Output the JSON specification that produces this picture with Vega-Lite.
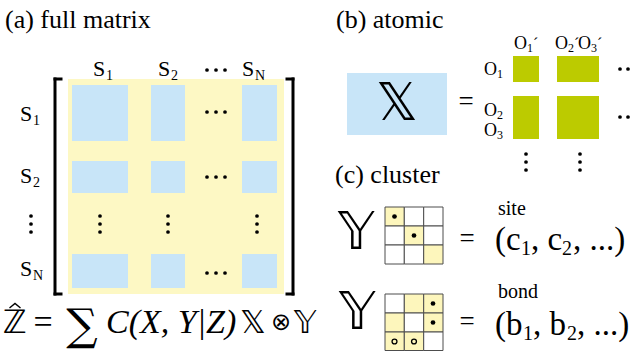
{
  "$schema": "https://vega.github.io/schema/vega-lite/v6.json",
  "width": 632,
  "height": 351,
  "padding": 0,
  "autosize": {"type": "none"},
  "background": "white",
  "config": {"view": {"stroke": null}},
  "resolve": {"scale": {"color": "independent"}},
  "datasets": {
    "blocks": [
      {"kind": "panel", "x": 68, "x2": 284, "y": 79, "y2": 294},
      {"kind": "block", "x": 72, "x2": 128, "y": 85, "y2": 141},
      {"kind": "block", "x": 151, "x2": 185, "y": 85, "y2": 141},
      {"kind": "block", "x": 242, "x2": 277, "y": 85, "y2": 141},
      {"kind": "block", "x": 72, "x2": 128, "y": 161, "y2": 193},
      {"kind": "block", "x": 151, "x2": 185, "y": 161, "y2": 193},
      {"kind": "block", "x": 242, "x2": 277, "y": 161, "y2": 193},
      {"kind": "block", "x": 72, "x2": 128, "y": 254, "y2": 288},
      {"kind": "block", "x": 151, "x2": 185, "y": 254, "y2": 288},
      {"kind": "block", "x": 242, "x2": 277, "y": 254, "y2": 288},
      {"kind": "block", "x": 347, "x2": 447, "y": 73, "y2": 135},
      {"kind": "orbital", "x": 513, "x2": 539, "y": 56, "y2": 82},
      {"kind": "orbital", "x": 557, "x2": 599, "y": 56, "y2": 82},
      {"kind": "orbital", "x": 513, "x2": 539, "y": 96, "y2": 139},
      {"kind": "orbital", "x": 557, "x2": 599, "y": 96, "y2": 139}
    ],
    "cells": [
      {"grid": "site", "on": "yes", "x": 385, "x2": 404.3, "y": 207, "y2": 226},
      {"grid": "site", "on": "no", "x": 404.3, "x2": 423.7, "y": 207, "y2": 226},
      {"grid": "site", "on": "no", "x": 423.7, "x2": 443, "y": 207, "y2": 226},
      {"grid": "site", "on": "no", "x": 385, "x2": 404.3, "y": 226, "y2": 245},
      {"grid": "site", "on": "yes", "x": 404.3, "x2": 423.7, "y": 226, "y2": 245},
      {"grid": "site", "on": "no", "x": 423.7, "x2": 443, "y": 226, "y2": 245},
      {"grid": "site", "on": "no", "x": 385, "x2": 404.3, "y": 245, "y2": 264},
      {"grid": "site", "on": "no", "x": 404.3, "x2": 423.7, "y": 245, "y2": 264},
      {"grid": "site", "on": "yes", "x": 423.7, "x2": 443, "y": 245, "y2": 264},
      {"grid": "bond", "on": "no", "x": 385, "x2": 404.3, "y": 294, "y2": 313},
      {"grid": "bond", "on": "yes", "x": 404.3, "x2": 423.7, "y": 294, "y2": 313},
      {"grid": "bond", "on": "yes", "x": 423.7, "x2": 443, "y": 294, "y2": 313},
      {"grid": "bond", "on": "yes", "x": 385, "x2": 404.3, "y": 313, "y2": 332},
      {"grid": "bond", "on": "no", "x": 404.3, "x2": 423.7, "y": 313, "y2": 332},
      {"grid": "bond", "on": "yes", "x": 423.7, "x2": 443, "y": 313, "y2": 332},
      {"grid": "bond", "on": "yes", "x": 385, "x2": 404.3, "y": 332, "y2": 350.5},
      {"grid": "bond", "on": "yes", "x": 404.3, "x2": 423.7, "y": 332, "y2": 350.5},
      {"grid": "bond", "on": "no", "x": 423.7, "x2": 443, "y": 332, "y2": 350.5}
    ],
    "brackets": [
      {"x": 55, "x2": 55, "y": 79, "y2": 294},
      {"x": 55, "x2": 61, "y": 79, "y2": 79},
      {"x": 55, "x2": 61, "y": 294, "y2": 294},
      {"x": 293, "x2": 293, "y": 79, "y2": 294},
      {"x": 287, "x2": 293, "y": 79, "y2": 79},
      {"x": 287, "x2": 293, "y": 294, "y2": 294}
    ],
    "hat": [
      {"i": 0, "x": 9.5, "y": 308},
      {"i": 1, "x": 15, "y": 303.5},
      {"i": 2, "x": 20.5, "y": 308}
    ],
    "dots": [
      {"kind": "ellipsis", "x": 207, "y": 70}, {"kind": "ellipsis", "x": 216, "y": 70}, {"kind": "ellipsis", "x": 225, "y": 70},
      {"kind": "ellipsis", "x": 207, "y": 112}, {"kind": "ellipsis", "x": 216, "y": 112}, {"kind": "ellipsis", "x": 225, "y": 112},
      {"kind": "ellipsis", "x": 207, "y": 177}, {"kind": "ellipsis", "x": 216, "y": 177}, {"kind": "ellipsis", "x": 225, "y": 177},
      {"kind": "ellipsis", "x": 207, "y": 273}, {"kind": "ellipsis", "x": 216, "y": 273}, {"kind": "ellipsis", "x": 225, "y": 273},
      {"kind": "ellipsis", "x": 31, "y": 216}, {"kind": "ellipsis", "x": 31, "y": 224}, {"kind": "ellipsis", "x": 31, "y": 232},
      {"kind": "ellipsis", "x": 100, "y": 216}, {"kind": "ellipsis", "x": 100, "y": 224}, {"kind": "ellipsis", "x": 100, "y": 232},
      {"kind": "ellipsis", "x": 168, "y": 216}, {"kind": "ellipsis", "x": 168, "y": 224}, {"kind": "ellipsis", "x": 168, "y": 232},
      {"kind": "ellipsis", "x": 257, "y": 216}, {"kind": "ellipsis", "x": 257, "y": 224}, {"kind": "ellipsis", "x": 257, "y": 232},
      {"kind": "ellipsis", "x": 620, "y": 69}, {"kind": "ellipsis", "x": 628, "y": 69}, {"kind": "ellipsis", "x": 636, "y": 69},
      {"kind": "ellipsis", "x": 620, "y": 117}, {"kind": "ellipsis", "x": 628, "y": 117}, {"kind": "ellipsis", "x": 636, "y": 117},
      {"kind": "ellipsis", "x": 526, "y": 154}, {"kind": "ellipsis", "x": 526, "y": 162}, {"kind": "ellipsis", "x": 526, "y": 170},
      {"kind": "ellipsis", "x": 580, "y": 154}, {"kind": "ellipsis", "x": 580, "y": 162}, {"kind": "ellipsis", "x": 580, "y": 170},
      {"kind": "occupied", "x": 394.5, "y": 216.5},
      {"kind": "occupied", "x": 414, "y": 235.5},
      {"kind": "occupied", "x": 433, "y": 303.5},
      {"kind": "occupied", "x": 433, "y": 322.5},
      {"kind": "vacant", "x": 394.5, "y": 341.5},
      {"kind": "vacant", "x": 414, "y": 341.5}
    ],
    "texts": [
      {"role": "title", "x": 5, "y": 28, "t": "(a) full matrix"},
      {"role": "title", "x": 336, "y": 28, "t": "(b) atomic"},
      {"role": "title", "x": 335, "y": 183, "t": "(c) cluster"},
      {"role": "S", "x": 93, "y": 76, "t": "S"},
      {"role": "S", "x": 158, "y": 76, "t": "S"},
      {"role": "S", "x": 242, "y": 76, "t": "S"},
      {"role": "S", "x": 20, "y": 121, "t": "S"},
      {"role": "S", "x": 20, "y": 183, "t": "S"},
      {"role": "S", "x": 20, "y": 276, "t": "S"},
      {"role": "Ssub", "x": 106, "y": 80, "t": "1"},
      {"role": "Ssub", "x": 171, "y": 80, "t": "2"},
      {"role": "Ssub", "x": 255, "y": 80, "t": "N"},
      {"role": "Ssub", "x": 33, "y": 125, "t": "1"},
      {"role": "Ssub", "x": 33, "y": 187, "t": "2"},
      {"role": "Ssub", "x": 33, "y": 280, "t": "N"},
      {"role": "O", "x": 484, "y": 75, "t": "O"},
      {"role": "O", "x": 484, "y": 116, "t": "O"},
      {"role": "O", "x": 484, "y": 136, "t": "O"},
      {"role": "O", "x": 514, "y": 49, "t": "O"},
      {"role": "O", "x": 555, "y": 49, "t": "O"},
      {"role": "O", "x": 578, "y": 49, "t": "O"},
      {"role": "Osub", "x": 497, "y": 78, "t": "1"},
      {"role": "Osub", "x": 497, "y": 119, "t": "2"},
      {"role": "Osub", "x": 497, "y": 139, "t": "3"},
      {"role": "Osub", "x": 527, "y": 52, "t": "1"},
      {"role": "Osub", "x": 568, "y": 52, "t": "2"},
      {"role": "Osub", "x": 591, "y": 52, "t": "3"},
      {"role": "prime", "x": 533, "y": 49, "t": "´"},
      {"role": "prime", "x": 574, "y": 49, "t": "´"},
      {"role": "prime", "x": 597, "y": 49, "t": "´"},
      {"role": "word", "x": 498, "y": 215, "t": "site"},
      {"role": "word", "x": 498, "y": 298, "t": "bond"},
      {"role": "eq", "x": 466, "y": 102, "t": "="},
      {"role": "eq", "x": 467, "y": 239, "t": "="},
      {"role": "eq", "x": 467, "y": 322, "t": "="},
      {"role": "tuple", "x": 495, "y": 250, "t": "(c"},
      {"role": "tuple", "x": 531, "y": 250, "t": ", c"},
      {"role": "tuple", "x": 573, "y": 250, "t": ", ...)"},
      {"role": "tuple", "x": 495, "y": 335, "t": "(b"},
      {"role": "tuple", "x": 533, "y": 335, "t": ", b"},
      {"role": "tuple", "x": 577, "y": 335, "t": ", ...)"},
      {"role": "tsub", "x": 521, "y": 255, "t": "1"},
      {"role": "tsub", "x": 562, "y": 255, "t": "2"},
      {"role": "tsub", "x": 523, "y": 340, "t": "1"},
      {"role": "tsub", "x": 567, "y": 340, "t": "2"},
      {"role": "bb", "x": 397, "y": 104, "t": "𝕏"},
      {"role": "bb", "x": 356, "y": 233, "t": "𝕐"},
      {"role": "bb", "x": 357, "y": 313, "t": "𝕐"},
      {"role": "fbb", "x": 15, "y": 323, "t": "ℤ"},
      {"role": "fbb", "x": 253, "y": 323, "t": "𝕏"},
      {"role": "fbb", "x": 305, "y": 323, "t": "𝕐"},
      {"role": "feq", "x": 43, "y": 323, "t": "="},
      {"role": "fsum", "x": 82, "y": 327, "t": "∑"},
      {"role": "fit", "x": 106, "y": 333, "t": "C(X, Y|Z)"},
      {"role": "fop", "x": 281, "y": 323, "t": "⊗"}
    ]
  },
  "encoding": {
    "x": {"field": "x", "type": "quantitative", "scale": {"domain": [0, 632], "nice": false, "zero": false}, "axis": null},
    "y": {"field": "y", "type": "quantitative", "scale": {"domain": [0, 351], "nice": false, "zero": false, "reverse": true}, "axis": null}
  },
  "layer": [
    {
      "data": {"name": "blocks"},
      "mark": {"type": "rect"},
      "encoding": {
        "x2": {"field": "x2"},
        "y2": {"field": "y2"},
        "color": {"field": "kind", "type": "nominal", "legend": null,
          "scale": {"domain": ["panel", "block", "orbital"], "range": ["#FDF8C4", "#C8E5F8", "#BCCB00"]}}
      }
    },
    {
      "data": {"name": "cells"},
      "mark": {"type": "rect", "stroke": "#4d4d4d", "strokeWidth": 1},
      "encoding": {
        "x2": {"field": "x2"},
        "y2": {"field": "y2"},
        "color": {"field": "on", "type": "nominal", "legend": null,
          "scale": {"domain": ["yes", "no"], "range": ["#FDF6BC", "#FFFFFF"]}}
      }
    },
    {
      "data": {"name": "brackets"},
      "mark": {"type": "rule", "color": "black", "strokeWidth": 3, "strokeCap": "square"},
      "encoding": {"x2": {"field": "x2"}, "y2": {"field": "y2"}}
    },
    {
      "data": {"name": "hat"},
      "mark": {"type": "line", "color": "black", "strokeWidth": 1.4, "strokeJoin": "miter"},
      "encoding": {"order": {"field": "i", "type": "quantitative"}}
    },
    {
      "data": {"name": "dots"},
      "transform": [{"filter": "datum.kind === 'ellipsis'"}],
      "mark": {"type": "circle", "color": "black", "size": 14, "opacity": 1}
    },
    {
      "data": {"name": "dots"},
      "transform": [{"filter": "datum.kind === 'occupied'"}],
      "mark": {"type": "circle", "color": "black", "size": 22, "opacity": 1}
    },
    {
      "data": {"name": "dots"},
      "transform": [{"filter": "datum.kind === 'vacant'"}],
      "mark": {"type": "point", "shape": "circle", "filled": false, "stroke": "black", "strokeWidth": 1.3, "size": 24, "opacity": 1}
    },
    {
      "data": {"name": "texts"},
      "transform": [{"filter": "datum.role === 'title'"}],
      "mark": {"type": "text", "font": "Liberation Serif", "fontSize": 26, "align": "left", "baseline": "alphabetic", "color": "black"},
      "encoding": {"text": {"field": "t"}}
    },
    {
      "data": {"name": "texts"},
      "transform": [{"filter": "datum.role === 'S'"}],
      "mark": {"type": "text", "font": "Liberation Serif", "fontSize": 22, "align": "left", "baseline": "alphabetic", "color": "black"},
      "encoding": {"text": {"field": "t"}}
    },
    {
      "data": {"name": "texts"},
      "transform": [{"filter": "datum.role === 'Ssub'"}],
      "mark": {"type": "text", "font": "Liberation Serif", "fontSize": 14, "align": "left", "baseline": "alphabetic", "color": "black"},
      "encoding": {"text": {"field": "t"}}
    },
    {
      "data": {"name": "texts"},
      "transform": [{"filter": "datum.role === 'O'"}],
      "mark": {"type": "text", "font": "Liberation Serif", "fontSize": 18, "align": "left", "baseline": "alphabetic", "color": "black"},
      "encoding": {"text": {"field": "t"}}
    },
    {
      "data": {"name": "texts"},
      "transform": [{"filter": "datum.role === 'Osub'"}],
      "mark": {"type": "text", "font": "Liberation Serif", "fontSize": 12, "align": "left", "baseline": "alphabetic", "color": "black"},
      "encoding": {"text": {"field": "t"}}
    },
    {
      "data": {"name": "texts"},
      "transform": [{"filter": "datum.role === 'prime'"}],
      "mark": {"type": "text", "font": "Liberation Serif", "fontSize": 16, "align": "left", "baseline": "alphabetic", "color": "black"},
      "encoding": {"text": {"field": "t"}}
    },
    {
      "data": {"name": "texts"},
      "transform": [{"filter": "datum.role === 'word'"}],
      "mark": {"type": "text", "font": "Liberation Serif", "fontSize": 20, "align": "left", "baseline": "alphabetic", "color": "black"},
      "encoding": {"text": {"field": "t"}}
    },
    {
      "data": {"name": "texts"},
      "transform": [{"filter": "datum.role === 'eq'"}],
      "mark": {"type": "text", "font": "Liberation Serif", "fontSize": 27, "align": "center", "baseline": "middle", "color": "black"},
      "encoding": {"text": {"field": "t"}}
    },
    {
      "data": {"name": "texts"},
      "transform": [{"filter": "datum.role === 'tuple'"}],
      "mark": {"type": "text", "font": "Liberation Serif", "fontSize": 33, "align": "left", "baseline": "alphabetic", "color": "black"},
      "encoding": {"text": {"field": "t"}}
    },
    {
      "data": {"name": "texts"},
      "transform": [{"filter": "datum.role === 'tsub'"}],
      "mark": {"type": "text", "font": "Liberation Serif", "fontSize": 20, "align": "left", "baseline": "alphabetic", "color": "black"},
      "encoding": {"text": {"field": "t"}}
    },
    {
      "data": {"name": "texts"},
      "transform": [{"filter": "datum.role === 'bb'"}],
      "mark": {"type": "text", "font": "DejaVu Sans", "fontSize": 52, "align": "center", "baseline": "middle", "color": "black"},
      "encoding": {"text": {"field": "t"}}
    },
    {
      "data": {"name": "texts"},
      "transform": [{"filter": "datum.role === 'fbb'"}],
      "mark": {"type": "text", "font": "DejaVu Sans", "fontSize": 32, "align": "center", "baseline": "middle", "color": "black"},
      "encoding": {"text": {"field": "t"}}
    },
    {
      "data": {"name": "texts"},
      "transform": [{"filter": "datum.role === 'feq'"}],
      "mark": {"type": "text", "font": "Liberation Serif", "fontSize": 34, "align": "center", "baseline": "middle", "color": "black"},
      "encoding": {"text": {"field": "t"}}
    },
    {
      "data": {"name": "texts"},
      "transform": [{"filter": "datum.role === 'fsum'"}],
      "mark": {"type": "text", "font": "DejaVu Serif", "fontSize": 44, "align": "center", "baseline": "middle", "color": "black"},
      "encoding": {"text": {"field": "t"}}
    },
    {
      "data": {"name": "texts"},
      "transform": [{"filter": "datum.role === 'fit'"}],
      "mark": {"type": "text", "font": "Liberation Serif", "fontStyle": "italic", "fontSize": 34, "align": "left", "baseline": "alphabetic", "color": "black"},
      "encoding": {"text": {"field": "t"}}
    },
    {
      "data": {"name": "texts"},
      "transform": [{"filter": "datum.role === 'fop'"}],
      "mark": {"type": "text", "font": "DejaVu Sans", "fontSize": 24, "align": "center", "baseline": "middle", "color": "black"},
      "encoding": {"text": {"field": "t"}}
    }
  ]
}
